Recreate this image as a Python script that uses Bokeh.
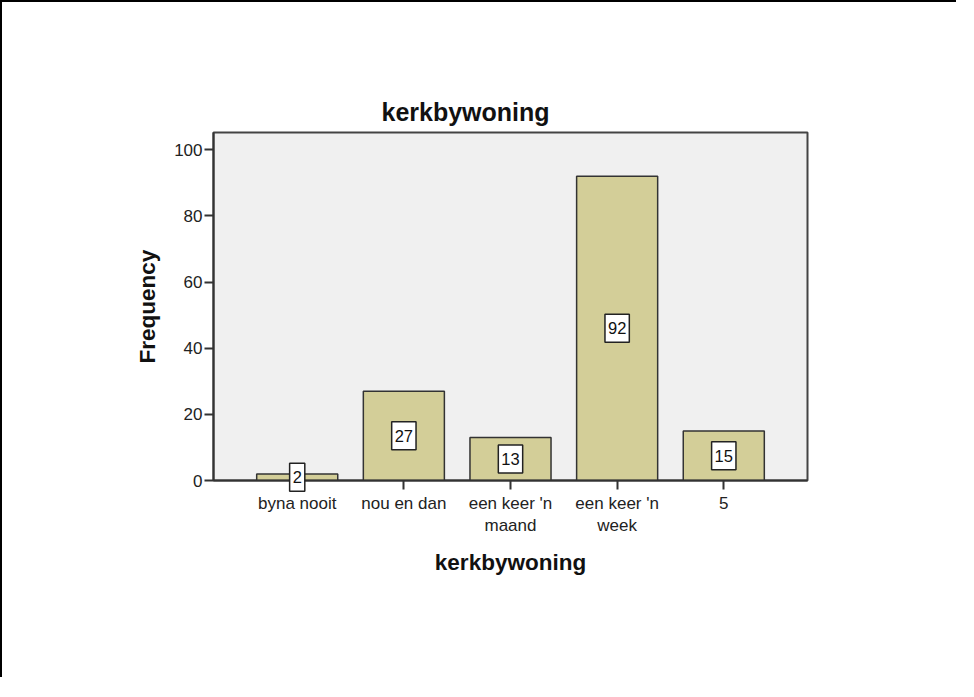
from bokeh.plotting import figure
from bokeh.models import ColumnDataSource, FactorRange, Range1d, FixedTicker
from bokeh.core.properties import value
from bokeh.embed import file_html
from bokeh.resources import INLINE

# ---- data ----
categories = ["byna nooit", "nou en dan", "een keer 'n\nmaand", "een keer 'n\nweek", "5"]
frequencies = [2, 27, 13, 92, 15]
y_ticks = [0, 20, 40, 60, 80, 100]
title_text = "kerkbywoning"
x_label = "kerkbywoning"
y_label = "Frequency"

FONT = "Liberation Sans"

source = ColumnDataSource(data=dict(
    cat=categories,
    freq=frequencies,
    mid=[f / 2 for f in frequencies],
    lab=[str(f) for f in frequencies],
))

p = figure(
    x_range=FactorRange(*categories, range_padding=0.114),
    y_range=Range1d(0, 105.2),
    width=956, height=677,
    output_backend="svg", toolbar_location=None,
    min_border_left=211, min_border_right=151,
    min_border_top=130, min_border_bottom=199,
    background_fill_color="#F0F0F0",
    border_fill_color="white",
)
p.styles = {"border-left": "2px solid black", "border-top": "2px solid black"}

p.outline_line_color = "#444444"
p.outline_line_width = 2
p.xgrid.visible = False
p.ygrid.visible = False

p.vbar(x="cat", top="freq", width=0.76, source=source,
       fill_color="#D3CE98", line_color="#333333", line_width=1.5)

labels = p.text(x="cat", y="mid", text="lab", source=source,
                text_align="center", text_baseline="middle",
                text_font=value(FONT), text_font_size="16.5px", text_color="#111111",
                background_fill_color="white", border_line_color="#222222",
                border_line_width=1.5,
                padding={"left": 3, "right": 3, "top": 8, "bottom": 8})
labels.level = "overlay"

# title
p.title.text = title_text
p.title.align = "left"
p.title.offset = 168
p.title.text_font = FONT
p.title.text_font_size = "25px"
p.title.text_font_style = "bold"
p.title.text_color = "#111111"
p.title.standoff = 13

# axes
for ax in (p.xaxis[0], p.yaxis[0]):
    ax.axis_line_color = "#333333"
    ax.axis_line_width = 2
    ax.major_tick_line_color = "#333333"
    ax.major_tick_line_width = 2
    ax.major_tick_in = 0
    ax.major_tick_out = 9
    ax.minor_tick_line_color = None
    ax.major_label_text_font = FONT
    ax.major_label_text_font_size = "17px"
    ax.major_label_text_color = "#222222"
    ax.axis_label_text_font = FONT
    ax.axis_label_text_font_style = "bold"
    ax.axis_label_text_font_size = "22.5px"
    ax.axis_label_text_color = "#111111"

p.yaxis[0].ticker = FixedTicker(ticks=y_ticks)
p.yaxis[0].major_label_standoff = 2
p.yaxis[0].axis_label = y_label
p.yaxis[0].axis_label_standoff = 11

p.xaxis[0].major_label_standoff = 4
p.xaxis[0].axis_label = x_label
p.xaxis[0].axis_label_standoff = 12

open("out.html", "w").write(file_html(p, INLINE))
